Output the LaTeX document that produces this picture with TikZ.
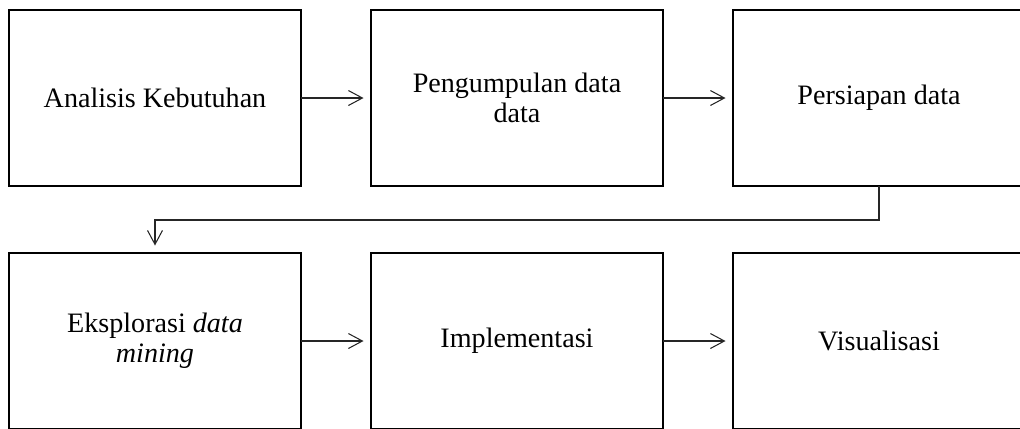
\documentclass[tikz,border=0pt]{standalone}
\usepackage{fontspec}
\setmainfont{Liberation Serif}
\usetikzlibrary{positioning,arrows.meta}

\begin{document}
\begin{tikzpicture}[
    stagebox/.style={draw, line width=1.1pt, minimum width=5.84cm, minimum height=3.52cm,
        align=center, inner sep=0pt, outer sep=0pt, font=\fontsize{16}{17}\selectfont},
    flow/.style={-{Straight Barb[length=2.8mm,width=3mm]}, line width=0.6pt, black!85, shorten >=0.15cm},
    node distance=1.34cm and 1.4cm
]
    % page size, the last boxes run off the edge
    \useasboundingbox (0,0) rectangle (20.4,-8.56);
    \clip (0,0) rectangle (20.4,-8.56);

    % first row
    \node[stagebox] (analisis) at (3.1,-1.96) {Analisis Kebutuhan};
    \node[stagebox, right=of analisis] (pengumpulan) {Pengumpulan data\\data};
    \node[stagebox, right=of pengumpulan] (persiapan) {Persiapan data};

    % second row
    \node[stagebox, below=of analisis] (eksplorasi) {Eksplorasi \textit{data}\\\textit{mining}};
    \node[stagebox, right=of eksplorasi] (implementasi) {Implementasi};
    \node[stagebox, right=of implementasi] (visualisasi) {Visualisasi};

    % arrows
    \draw[flow] (analisis) -- (pengumpulan);
    \draw[flow] (pengumpulan) -- (persiapan);
    \draw[flow] (persiapan.south) -- ++(0,-0.68) -| (eksplorasi.north); % back to the next row
    \draw[flow] (eksplorasi) -- (implementasi);
    \draw[flow] (implementasi) -- (visualisasi);
\end{tikzpicture}
\end{document}
